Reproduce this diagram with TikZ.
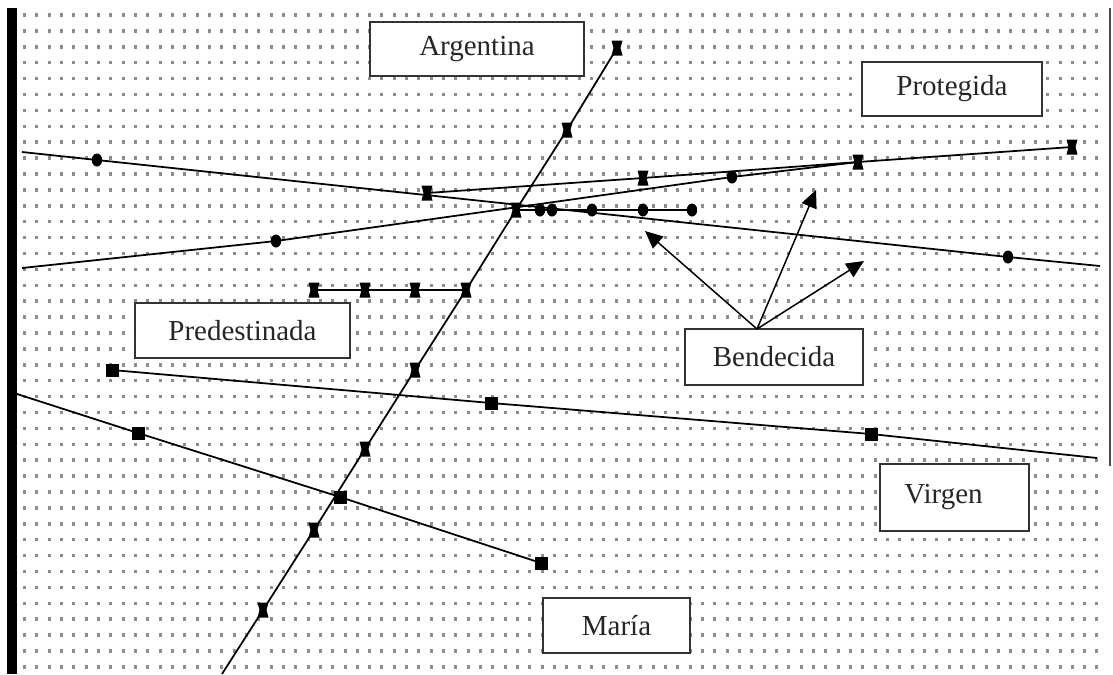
\documentclass[tikz,border=0pt]{standalone}
\usepackage{fontspec}
\setmainfont{Liberation Serif}
\usetikzlibrary{arrows.meta}
\tikzset{
  dotgrid/.style={line width=0.07cm, black!45, dash pattern=on 0.06cm off 0.1866cm},
  series/.style={line width=1pt, black},
  pointer/.style={line width=0.85pt, black, -{Triangle[length=10pt,width=9pt]}},
  wordbox/.style={draw=black!80, line width=1.1pt, fill=white, text=black!85, font=\fontsize{16.5}{19}\selectfont, inner sep=0pt},
  hg/.pic={\fill (-5.5,-7.5) -- (5.5,-7.5) -- (3.5,0) -- (5.5,7.5) -- (-5.5,7.5) -- (-3.5,0) -- cycle;},
  sq/.pic={\fill (-6.5,-6.5) rectangle (6.5,6.5);},
  ci/.pic={\fill (0,0) ellipse [x radius=5.2, y radius=6.5];}
}
\begin{document}
\begin{tikzpicture}[x=0.02cm,y=-0.02cm]
\useasboundingbox (0,0) rectangle (1113,674);
\fill[white] (0,0) rectangle (1113,674);
% dot grid
\foreach \r in {0,...,41}
  \draw[dotgrid] (23,{15+\r*15.9}) -- (1102,{15+\r*15.9});
% frame bars
\fill[black] (7,8) rectangle (17,674);
\draw[black!70, line width=0.8pt] (1110,8) -- (1110,466);

% series coordinates
\coordinate (a1) at (617,48);  \coordinate (a2) at (567,130);
\coordinate (a3) at (516,210); \coordinate (a4) at (466,290);
\coordinate (a5) at (415,370); \coordinate (a6) at (365,449);
\coordinate (a7) at (314,530); \coordinate (a8) at (263,610);
\coordinate (aend) at (222,674);

\coordinate (p1) at (314,290); \coordinate (p2) at (365,290);
\coordinate (p3) at (415,290);

\coordinate (b1) at (540,210); \coordinate (b2) at (552,210);
\coordinate (b3) at (592,210); \coordinate (b4) at (643,210);
\coordinate (b5) at (692,210);

\coordinate (dstart) at (22,152); \coordinate (d1) at (97,160);
\coordinate (d2) at (1008,257); \coordinate (dend) at (1100,266);

\coordinate (h1) at (427,193); \coordinate (h2) at (643,178);
\coordinate (h3) at (858,162); \coordinate (h4) at (1072,147);

\coordinate (rstart) at (22,268); \coordinate (r1) at (276,241);
\coordinate (r2) at (732,177);

\coordinate (v1) at (112,370); \coordinate (v2) at (491,403);
\coordinate (v3) at (871,434); \coordinate (vend) at (1097,458);

\coordinate (mstart) at (17,394); \coordinate (m1) at (138,433);
\coordinate (m2) at (340,497); \coordinate (m3) at (541,563);

% series lines
\draw[series] (a1) -- (a2) -- (a3) -- (a4) -- (a5) -- (a6) -- (a7) -- (a8) -- (aend);
\draw[series] (p1) -- (p2) -- (p3) -- (a4);
\draw[series] (a3) -- (b1) -- (b2) -- (b3) -- (b4) -- (b5);
\draw[series] (dstart) -- (d1) -- (d2) -- (dend);
\draw[series] (h1) -- (h2) -- (h3) -- (h4);
\draw[series] (rstart) -- (r1) -- (r2) -- (h3);
\draw[series] (v1) -- (v2) -- (v3) -- (vend);
\draw[series] (mstart) -- (m1) -- (m2) -- (m3);

% markers
\foreach \c in {a1,a2,a3,a4,a5,a6,a7,a8,p1,p2,p3,h1,h2,h3,h4}
  \pic at (\c) {hg};
\foreach \c in {b1,b2,b3,b4,b5,d1,d2,r1,r2}
  \pic at (\c) {ci};
\foreach \c in {v1,v2,v3,m1,m2,m3}
  \pic at (\c) {sq};

% word boxes
\node[wordbox, minimum width=4.28cm, minimum height=1.08cm] (argentina) at (477,49) {Argentina};
\node[wordbox, minimum width=3.6cm, minimum height=1.08cm] (protegida) at (952,89) {Protegida};
\node[wordbox, minimum width=4.3cm, minimum height=1.1cm] (predestinada) at (242.5,330.5) {Predestinada};
\node[wordbox, minimum width=3.56cm, minimum height=1.12cm] (bendecida) at (774,357) {Bendecida};
\node[wordbox, minimum width=2.98cm, minimum height=1.34cm] (virgen) at (954.5,497.5) {Virgen\hspace*{0.44cm}};
\node[wordbox, minimum width=2.94cm, minimum height=1.1cm] (maria) at (616.5,625.5) {María};

% arrows from Bendecida
\coordinate (bsrc) at (757,329);
\coordinate (t1) at (645,231);
\coordinate (t2) at (816,190);
\coordinate (t3) at (864,261);
\draw[pointer] (bsrc) -- (t1);
\draw[pointer] (bsrc) -- (t2);
\draw[pointer] (bsrc) -- (t3);
\end{tikzpicture}
\end{document}
